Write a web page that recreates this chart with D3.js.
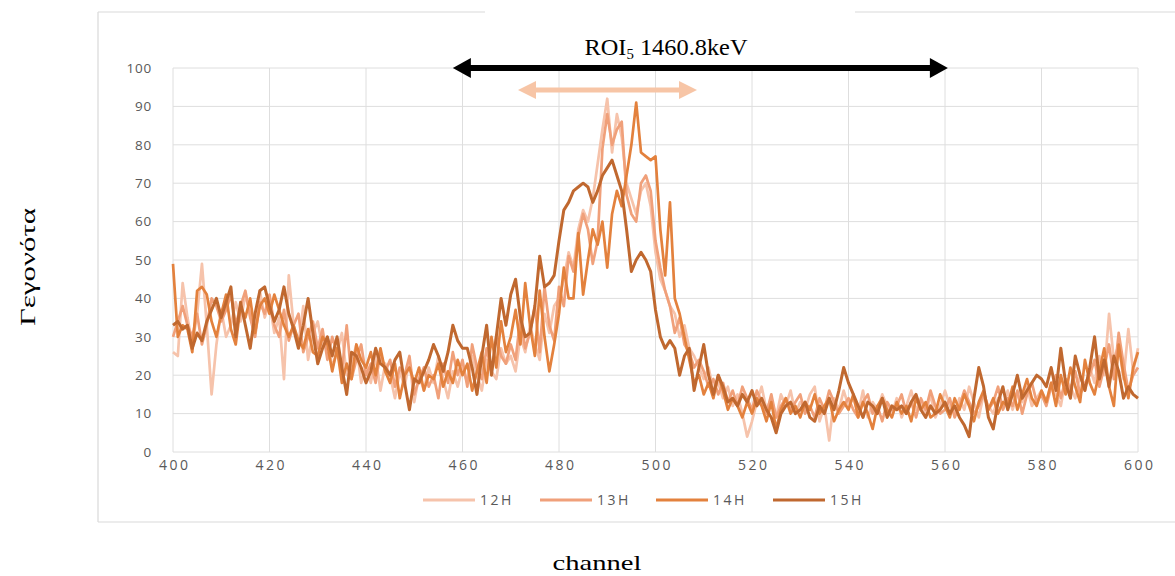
<!DOCTYPE html>
<html>
<head>
<meta charset="utf-8">
<script src="https://cdn.jsdelivr.net/npm/d3@7/dist/d3.min.js"></script>
<style>
  html, body { margin: 0; padding: 0; background: #ffffff; }
  svg { display: block; }
</style>
</head>
<body>
<svg id="chart" width="1175" height="576"></svg>
<script>
// ---------- DATA ----------
const channelStart = 400;
const channelEnd = 600;
const seriesNames = ["12H", "13H", "14H", "15H"];
const xTicks = [400, 420, 440, 460, 480, 500, 520, 540, 560, 580, 600];
const yTicks = [0, 10, 20, 30, 40, 50, 60, 70, 80, 90, 100];

const h12 = [
  26,25,44,35,28,36,49,33,15,28,
  37,30,33,39,34,41,36,30,42,35,
  39,31,35,19,46,33,28,38,24,31,
  34,27,30,22,26,31,20,23,28,18,
  22,18,25,16,23,20,14,21,17,24,
  13,20,16,22,18,25,19,14,21,17,
  22,18,25,20,16,24,21,19,27,23,
  25,21,30,26,33,28,24,36,31,38,
  40,45,52,48,58,63,60,66,75,84,
  92,78,88,82,70,66,62,68,70,64,
  52,45,42,38,36,30,33,27,25,22,
  19,22,16,18,14,17,12,15,10,4,
  8,13,17,11,14,9,15,12,16,10,
  13,11,15,17,8,12,3,14,11,16,
  12,14,10,16,9,13,11,15,12,10,
  14,9,12,16,11,13,10,15,9,12,
  16,12,10,14,11,17,13,9,15,12,
  10,14,12,16,11,15,13,17,12,14,
  16,13,18,15,12,19,17,14,20,16,
  22,18,25,20,36,24,28,19,32,21,
  27
];
const h13 = [
  30,34,38,33,30,36,28,33,40,38,
  34,37,41,33,38,42,35,30,39,36,
  41,33,30,37,29,33,36,26,30,34,
  27,32,24,30,26,21,33,19,24,28,
  20,23,18,26,21,24,17,22,20,25,
  15,19,22,17,20,14,23,18,26,20,
  24,17,28,22,19,27,21,30,25,23,
  28,24,35,27,31,38,26,43,33,29,
  43,38,51,47,56,62,58,49,55,79,
  88,80,84,86,67,62,60,70,72,68,
  55,48,42,38,31,35,28,26,22,24,
  21,17,19,15,18,13,16,12,17,14,
  11,16,13,10,15,9,12,14,11,13,
  15,10,12,9,14,11,16,13,10,12,
  14,11,9,13,15,10,12,8,13,11,
  12,15,10,13,9,14,11,16,12,10,
  11,14,9,12,16,13,10,12,15,11,
  13,17,11,14,12,16,10,15,18,13,
  15,12,17,20,14,19,16,21,15,18,
  20,24,17,22,28,19,31,23,16,20,
  22
];
const h14 = [
  49,30,33,32,26,42,43,41,34,30,
  36,41,32,28,38,35,40,31,38,40,
  36,41,37,33,30,33,29,27,32,26,
  25,30,28,21,27,18,23,19,28,24,
  22,26,20,27,21,18,23,14,20,22,
  18,22,16,20,19,23,17,21,18,24,
  20,23,16,21,26,18,30,22,34,26,
  30,37,28,44,33,25,42,30,21,28,
  36,48,40,40,57,41,50,58,54,60,
  48,62,68,64,72,80,91,78,77,76,
  77,58,46,65,40,36,30,24,18,20,
  15,18,14,20,16,11,14,12,9,13,
  10,14,12,8,13,6,11,14,10,12,
  9,13,11,15,10,12,14,8,11,13,
  11,15,9,13,10,6,12,14,11,9,
  13,10,12,8,14,11,13,9,10,15,
  12,9,14,11,15,12,8,13,16,11,
  14,10,13,12,17,11,15,19,14,12,
  16,13,18,12,20,15,22,17,13,24,
  18,15,21,27,17,12,28,20,14,22,
  26
];
const h15 = [
  33,34,32,33,27,31,29,34,37,40,
  35,39,43,30,39,33,27,36,42,43,
  38,34,37,43,36,32,27,33,40,31,
  23,27,30,25,30,22,15,26,25,22,
  18,21,27,23,22,20,24,26,18,11,
  19,18,21,24,28,25,21,26,33,29,
  27,27,22,15,25,33,20,30,40,33,
  41,45,35,30,31,38,51,43,44,46,
  55,63,65,68,69,70,69,65,68,72,
  74,76,72,68,58,47,50,52,50,47,
  37,30,27,29,27,20,25,27,16,22,
  28,20,15,20,17,13,14,12,15,13,
  16,12,14,11,9,5,10,12,13,10,
  11,13,9,8,12,10,14,11,16,22,
  18,15,12,9,13,12,10,14,9,12,
  11,12,10,13,15,11,9,12,10,11,
  13,10,12,9,7,4,14,22,17,9,
  6,13,17,11,15,20,14,16,18,20,
  19,17,22,16,27,18,14,25,20,16,
  22,30,19,24,17,25,21,14,17,15,
  14
];
const seriesValues = [h12, h13, h14, h15];
const seriesColors = ["#f6c3ab", "#f0a07a", "#e3813d", "#c0682f"];

// Annotation arrows (in data units: channel range, counts level)
const roiArrow = [458, 560.6, 100];
const peakArrow = [471.5, 508.6, 94.3];

// ---------- LAYOUT ----------
const svg = d3.select("#chart");
const x = d3.scaleLinear().domain([channelStart, channelEnd]).range([173, 1138]);
const y = d3.scaleLinear().domain([0, 100]).range([452, 68]);
const channels = d3.range(channelStart, channelEnd + 1);

svg.append("rect").attr("width", 1175).attr("height", 576).attr("fill", "#fff");

// outer chart border
const border = svg.append("g").attr("stroke", "#d9d9d9").attr("stroke-width", 1.2).attr("fill", "none");
border.append("line").attr("x1", 98).attr("x2", 98).attr("y1", 12).attr("y2", 522);
border.append("line").attr("x1", 98).attr("x2", 1175).attr("y1", 522).attr("y2", 522);
border.append("line").attr("x1", 98).attr("x2", 485).attr("y1", 12).attr("y2", 12);
border.append("line").attr("x1", 855).attr("x2", 1175).attr("y1", 12).attr("y2", 12);

// gridlines
const grid = svg.append("g").attr("stroke", "#dedede").attr("stroke-width", 1);
yTicks.forEach(t => grid.append("line")
  .attr("x1", x(channelStart)).attr("x2", x(channelEnd))
  .attr("y1", y(t)).attr("y2", y(t)));
xTicks.forEach(t => grid.append("line")
  .attr("x1", x(t)).attr("x2", x(t))
  .attr("y1", y(0)).attr("y2", y(100)));

// axes (labels only)
const yAxis = d3.axisLeft(y).tickValues(yTicks).tickSize(0).tickPadding(21);
const gy = svg.append("g").attr("transform", `translate(${x(channelStart)},0)`).call(yAxis);
gy.select(".domain").remove();
gy.selectAll("text").attr("fill", "#595959").style("font-family", "'Open Sans', sans-serif")
  .style("font-size", "13.5px").style("letter-spacing", "0.8px");

const xAxis = d3.axisBottom(x).tickValues(xTicks).tickSize(0).tickPadding(8);
const gx = svg.append("g").attr("transform", `translate(0,${y(0)})`).call(xAxis);
gx.select(".domain").remove();
gx.selectAll("text").attr("fill", "#595959").style("font-family", "'Open Sans', sans-serif")
  .style("font-size", "14px").style("letter-spacing", "2.5px").attr("dx", "1.2px");

// series lines
const line = d3.line().x((d, i) => x(channels[i])).y(d => y(d)).curve(d3.curveLinear);
seriesValues.forEach((vals, k) => {
  svg.append("path").datum(vals)
    .attr("d", line)
    .attr("fill", "none")
    .attr("stroke", seriesColors[k])
    .attr("stroke-width", k === 3 ? 3 : 2.7)
    .attr("stroke-linejoin", "round");
});

// arrows
function dblArrow(spec, color, width, headLen, headHalf) {
  const x1 = x(spec[0]), x2 = x(spec[1]), yy = y(spec[2]);
  const g = svg.append("g");
  g.append("line").attr("x1", x1 + headLen - 2).attr("x2", x2 - headLen + 2)
    .attr("y1", yy).attr("y2", yy).attr("stroke", color).attr("stroke-width", width);
  g.append("path").attr("d", `M${x1},${yy} L${x1 + headLen},${yy - headHalf} L${x1 + headLen},${yy + headHalf} Z`).attr("fill", color);
  g.append("path").attr("d", `M${x2},${yy} L${x2 - headLen},${yy - headHalf} L${x2 - headLen},${yy + headHalf} Z`).attr("fill", color);
}
dblArrow(roiArrow, "#000000", 6, 18, 10);
dblArrow(peakArrow, "#f7c5a6", 5, 18, 9);

// title
const title = svg.append("text").attr("x", 666).attr("y", 55).attr("text-anchor", "middle")
  .style("font-family", "'Liberation Serif', 'Times New Roman', serif").style("font-size", "23px")
  .attr("textLength", 163).attr("lengthAdjust", "spacingAndGlyphs").attr("fill", "#000");
title.append("tspan").text("ROI");
title.append("tspan").attr("dy", 4).style("font-size", "14px").text("5");
title.append("tspan").attr("dy", -4).text(" 1460.8keV");

// legend
const legendX = [423, 540, 656, 773];
seriesNames.forEach((n, k) => {
  svg.append("line").attr("x1", legendX[k]).attr("x2", legendX[k] + 52)
    .attr("y1", 500).attr("y2", 500).attr("stroke", seriesColors[k]).attr("stroke-width", 3);
  svg.append("text").attr("x", legendX[k] + 57).attr("y", 505)
    .attr("fill", "#595959").style("font-family", "'Open Sans', sans-serif")
    .style("font-size", "14px").style("letter-spacing", "2.5px").text(n);
});

// axis titles
svg.append("text").attr("x", 597).attr("y", 570).attr("text-anchor", "middle")
  .style("font-family", "'Liberation Serif', 'Times New Roman', serif").style("font-size", "22px")
  .attr("textLength", 89).attr("lengthAdjust", "spacingAndGlyphs")
  .attr("fill", "#000").text("channel");
svg.append("text").attr("transform", "translate(35,267) rotate(-90)").attr("text-anchor", "middle")
  .style("font-family", "'Liberation Serif', 'Times New Roman', serif").style("font-size", "22px")
  .attr("textLength", 118).attr("lengthAdjust", "spacingAndGlyphs")
  .attr("fill", "#000").text("Γεγονότα");
</script>
</body>
</html>
